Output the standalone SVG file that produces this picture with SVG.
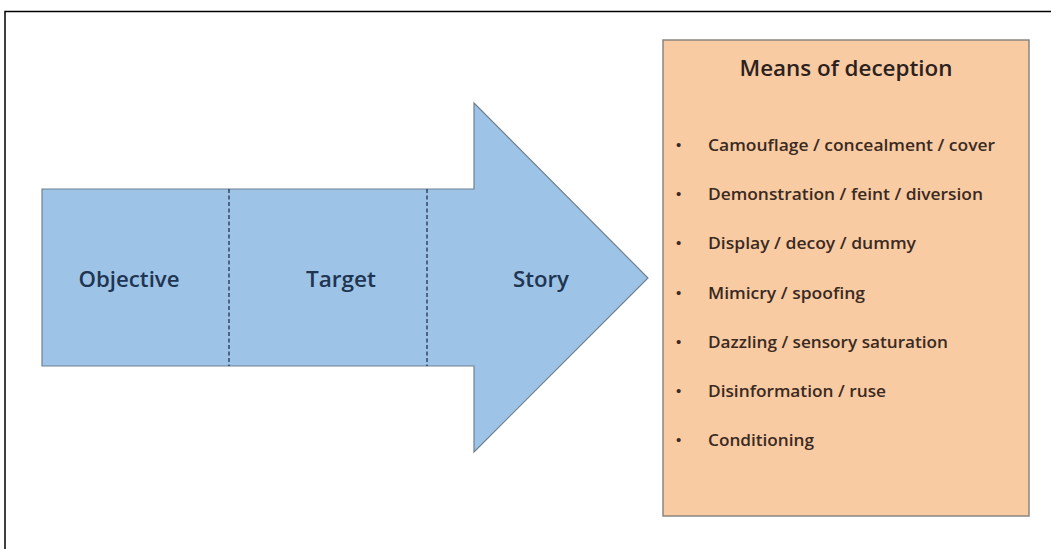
<svg xmlns="http://www.w3.org/2000/svg" width="1051" height="549" viewBox="0 0 1051 549">
<style>
.lbl{font-family:"Open Sans","Liberation Sans",sans-serif;font-size:21px;font-weight:600;fill:#1f3552;text-anchor:middle}
.item{font-family:"Open Sans","Liberation Sans",sans-serif;font-size:16px;font-weight:600;fill:#3a2a22}
.bul{font-family:"Liberation Sans",sans-serif;font-size:15px;fill:#3a2a22}
.title{font-family:"Open Sans","Liberation Sans",sans-serif;font-size:21px;font-weight:600;fill:#2b2220;text-anchor:middle}
.div{stroke:#1f3552;stroke-width:1.3;stroke-dasharray:4,2.5;fill:none}
</style>
<rect x="5" y="11.5" width="1060" height="560" fill="#ffffff" stroke="#000000" stroke-width="1.5"/>
<g id="arrow">
<polygon points="42,189 474,189 474,103 648,278 474,452 474,366 42,366" fill="#9dc3e6" stroke="#6f8090" stroke-width="1.2"/>
</g>
<g id="connectors">
<line class="div" x1="229" y1="189" x2="229" y2="366"/>
<line class="div" x1="427" y1="189" x2="427" y2="366"/>
</g>
<g id="objective"><text class="lbl" x="129" y="287" textLength="101" lengthAdjust="spacingAndGlyphs">Objective</text></g>
<g id="target"><text class="lbl" x="341" y="287" textLength="70" lengthAdjust="spacingAndGlyphs">Target</text></g>
<g id="story"><text class="lbl" x="541" y="287" textLength="56" lengthAdjust="spacingAndGlyphs">Story</text></g>
<g id="means">
<rect x="663" y="40" width="366" height="476" fill="#f9cba2" stroke="#8a8580" stroke-width="1.5"/>
<text class="title" x="846" y="76" textLength="213" lengthAdjust="spacingAndGlyphs">Means of deception</text>
<text class="bul" x="676" y="150">•</text>
<text class="item" x="708" y="150.5" textLength="287" lengthAdjust="spacingAndGlyphs">Camouflage / concealment / cover</text>
<text class="bul" x="676" y="199">•</text>
<text class="item" x="708" y="199.5" textLength="275" lengthAdjust="spacingAndGlyphs">Demonstration / feint / diversion</text>
<text class="bul" x="676" y="248">•</text>
<text class="item" x="708" y="248.5" textLength="208" lengthAdjust="spacingAndGlyphs">Display / decoy / dummy</text>
<text class="bul" x="676" y="298">•</text>
<text class="item" x="708" y="298.5" textLength="157" lengthAdjust="spacingAndGlyphs">Mimicry / spoofing</text>
<text class="bul" x="676" y="347">•</text>
<text class="item" x="708" y="347.5" textLength="240" lengthAdjust="spacingAndGlyphs">Dazzling / sensory saturation</text>
<text class="bul" x="676" y="396">•</text>
<text class="item" x="708" y="396.5" textLength="178" lengthAdjust="spacingAndGlyphs">Disinformation / ruse</text>
<text class="bul" x="676" y="445">•</text>
<text class="item" x="708" y="445.5" textLength="106" lengthAdjust="spacingAndGlyphs">Conditioning</text>
</g>
</svg>
